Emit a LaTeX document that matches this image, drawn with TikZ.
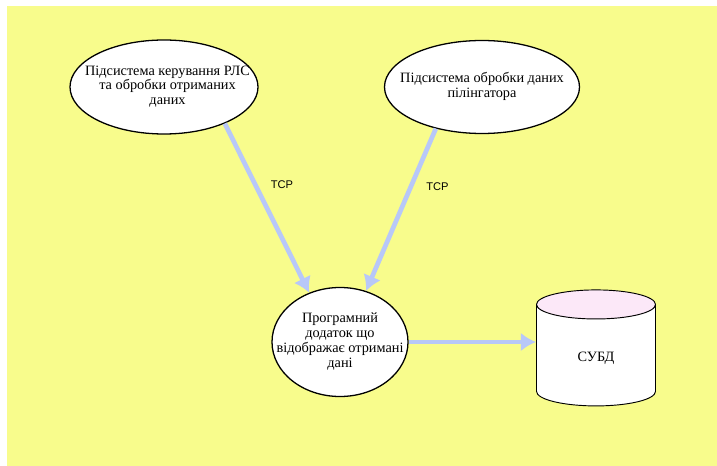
\documentclass[tikz,border=0pt]{standalone}
\usepackage{fontspec}
\setmainfont{Liberation Serif}
\setsansfont{Liberation Sans}
\usetikzlibrary{positioning,arrows.meta,shapes.geometric}
\definecolor{bgyel}{HTML}{F8FC8C}
\definecolor{linkblue}{HTML}{B8C8F8}
\definecolor{dbtop}{HTML}{FCE8F8}
\newcommand{\ovaltext}[2][0pt]{\raisebox{#1}{\makebox[0pt][c]{\begin{tabular}{@{}c@{}}#2\end{tabular}}}}

\begin{document}
\begin{tikzpicture}[every node/.style={font=\fontsize{12.2}{12.6}\selectfont},
    subsys/.style={draw,ellipse,fill=white,line width=1.1pt,inner sep=0pt},
    link/.style={draw=linkblue,line width=4pt,-{Latex[length=13pt,width=16pt]}},
    proto/.style={font=\sffamily\fontsize{9.5}{11}\selectfont}]
    \useasboundingbox (0,0) rectangle (21.51,-13.98);
    \fill[bgyel] (0.21,-0.18) rectangle (21.51,-13.98);

    \node[subsys,minimum width=5.64cm,minimum height=2.82cm] (rls) at (4.92,-2.61)
      {\hspace*{6pt}\ovaltext[-4pt]{Підсистема керування РЛС\\та обробки отриманих\\даних}};
    \node[subsys,minimum width=5.85cm,minimum height=2.79cm] (piling) at (14.46,-2.61)
      {\ovaltext[-2pt]{Підсистема обробки даних\\пілінгатора}};
    \node[subsys,minimum width=4.08cm,minimum height=3.27cm] (app) at (10.2,-10.26)
      {\ovaltext{Програмний\\додаток що\\відображає отримані\\дані}};
    \node[draw,cylinder,shape border rotate=90,aspect=0.65,line width=0.8pt,
      cylinder uses custom fill,cylinder body fill=white,cylinder end fill=dbtop,
      minimum width=3.57cm,minimum height=3.48cm] (db) at (17.88,-10.74) {СУБД};

    \draw[link] (rls.-31) -- node[proto,pos=0.36,right=8pt] {TCP} (app.122);
    \draw[link] (piling.222) -- node[proto,pos=0.36,right=8pt] {TCP} (app.63);
    \draw[link] (app.east) -- (app.east -| db.west);
  \end{tikzpicture}
\end{document}
